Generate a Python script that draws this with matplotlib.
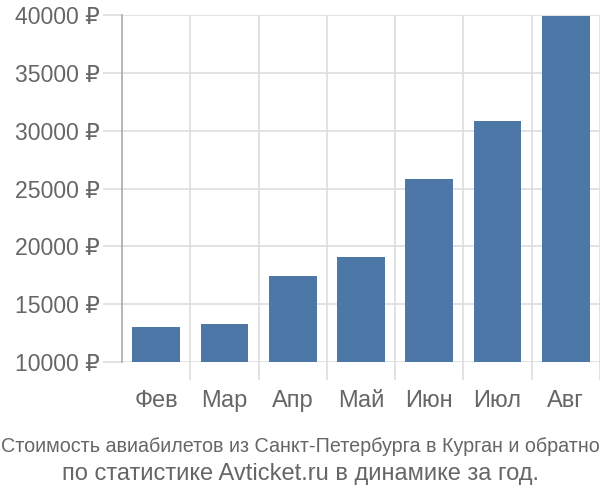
import matplotlib.pyplot as plt
import numpy as np

months = ['Фев', 'Мар', 'Апр', 'Май', 'Июн', 'Июл', 'Авг']
prices = [13000, 13250, 17400, 19100, 25850, 30850, 39900]
yticks = [10000, 15000, 20000, 25000, 30000, 35000, 40000]
base = 10000

plt.rcParams['font.family'] = ['Liberation Sans', 'DejaVu Sans']

fig = plt.figure(figsize=(6, 5), dpi=100)
ax = fig.add_axes([122 / 600, 138 / 500, 478 / 600, 347 / 500])

x = np.arange(len(months))
ax.bar(x, np.array(prices) - base, bottom=base, width=0.7, color='#4c77a7', zorder=3)

ax.set_xlim(-0.5, len(months) - 0.5)
ax.set_ylim(10000, 40000)

# horizontal grid + ticks sticking out left
ax.set_yticks(yticks)
ax.set_yticklabels([f'{v} ₽' for v in yticks])
ax.yaxis.grid(True, color='#dddddd', linewidth=1.2, zorder=0)
ax.tick_params(axis='y', length=14, width=1.2, color='#dddddd', labelsize=16.6,
               labelcolor='#666666', pad=2)

# category labels, vertical grid at the boundaries
ax.set_xticks(x)
ax.set_xticklabels(months)
ax.tick_params(axis='x', length=0, labelsize=17, labelcolor='#666666', pad=20)
ax.set_xticks(np.arange(len(months)) + 0.5, minor=True)
ax.xaxis.grid(True, which='minor', color='#dddddd', linewidth=1.2, zorder=0)
ax.tick_params(axis='x', which='minor', length=13, width=1.2, color='#dddddd')

for s in ['top', 'right', 'bottom']:
    ax.spines[s].set_visible(False)
ax.spines['left'].set_color('#aaaaaa')
ax.spines['left'].set_linewidth(1.2)

fig.text(0.5, 53 / 500, 'Стоимость авиабилетов из Санкт-Петербурга в Курган и обратно',
         ha='center', va='center', fontsize=14.2, color='#666666')
fig.text(0.5, 26 / 500, 'по статистике Avticket.ru в динамике за год.',
         ha='center', va='center', fontsize=17, color='#666666')

fig.savefig('out.png', dpi=100)
